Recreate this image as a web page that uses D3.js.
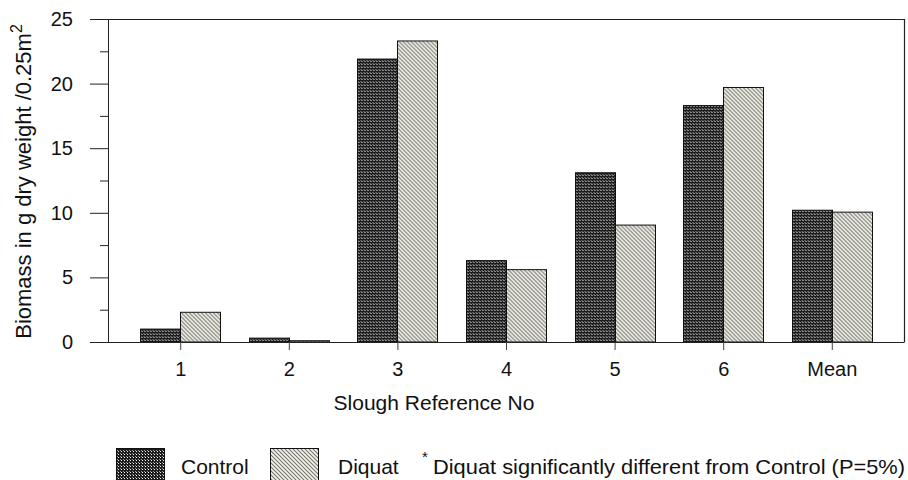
<!DOCTYPE html>
<html>
<head>
<meta charset="utf-8">
<script src="https://cdn.jsdelivr.net/npm/d3@7"></script>
<style>
  html, body { margin: 0; padding: 0; background: #fff; }
  svg { display: block; font-family: "Liberation Sans", Arial, Helvetica, sans-serif; }
</style>
</head>
<body>
<svg id="chart" width="908" height="480"></svg>
<script>
// Biomass per slough, control vs diquat-treated plots
const categories = ["1", "2", "3", "4", "5", "6", "Mean"];
const control = [1.0, 0.3, 21.9, 6.3, 13.1, 18.3, 10.2];
const diquat  = [2.3, 0.1, 23.3, 5.6, 9.05, 19.7, 10.05];
const seriesNames = ["Control", "Diquat"];
const yTicks = [0, 5, 10, 15, 20, 25];
const yMinorTicks = [2.5, 7.5, 12.5, 17.5, 22.5];

const svg = d3.select("#chart");
const m = { left: 108, right: 904, top: 19, bottom: 342 };
const FONT = "'Liberation Sans', Arial, sans-serif";
const tickFont = 20, labelFont = 21;

const defs = svg.append("defs");
// dense dotted fill for the control bars
const dots = defs.append("pattern")
  .attr("id", "pat-control").attr("patternUnits", "userSpaceOnUse")
  .attr("width", 3).attr("height", 3);
dots.append("rect").attr("width", 3).attr("height", 3).attr("fill", "#1c1c1c");
dots.append("rect").attr("x", 1).attr("y", 1).attr("width", 1).attr("height", 1).attr("fill", "#f2f2f2");
dots.append("rect").attr("x", 0).attr("y", 0).attr("width", 1).attr("height", 1).attr("fill", "#9a9a9a");

// fine diagonal hatching for the diquat bars
const hatch = defs.append("pattern")
  .attr("id", "pat-diquat").attr("patternUnits", "userSpaceOnUse")
  .attr("width", 4).attr("height", 4);
hatch.append("rect").attr("width", 4).attr("height", 4).attr("fill", "#f5f5ee");
hatch.append("path").attr("d", "M-1,-1 L5,5 M-1,3 L1,5 M3,-1 L5,1")
  .attr("stroke", "#74746c").attr("stroke-width", 1.1);

const x = d3.scalePoint().domain(categories).range([m.left, m.right]).padding(0.665);
const y = d3.scaleLinear().domain([0, 25]).range([m.bottom, m.top]);

// frame: top and right lines
svg.append("path")
  .attr("d", `M${m.left},${m.top + 0.5} H${m.right + 0.5} V${m.bottom}`)
  .attr("fill", "none").attr("stroke", "#222").attr("stroke-width", 1.2);

// y axis
const yAxis = d3.axisLeft(y).tickValues(yTicks).tickSize(18).tickPadding(17);
const gy = svg.append("g").attr("transform", `translate(${m.left},0)`).call(yAxis);
gy.select(".domain").attr("stroke", "#222");
gy.selectAll(".tick line").attr("stroke", "#222");
gy.selectAll(".tick text").attr("font-size", tickFont).attr("fill", "#111").attr("font-family", FONT);
const yMinor = d3.axisLeft(y).tickValues(yMinorTicks).tickSize(8).tickFormat("");
const gym = svg.append("g").attr("transform", `translate(${m.left},0)`).call(yMinor);
gym.select(".domain").remove();
gym.selectAll(".tick line").attr("stroke", "#222");

// bars
const bw = 40;
const xs = d3.scaleBand().domain(seriesNames).range([0, bw * 2]);
const rows = categories.map((c, i) => ({ cat: c, vals: [control[i], diquat[i]] }));
const groups = svg.append("g").selectAll("g").data(rows).join("g")
  .attr("transform", d => `translate(${Math.round(x(d.cat)) - bw + 0.5},0)`);
groups.selectAll("rect")
  .data(d => d.vals.map((v, j) => ({ name: seriesNames[j], v })))
  .join("rect")
  .attr("x", d => xs(d.name))
  .attr("y", d => y(d.v))
  .attr("width", xs.bandwidth())
  .attr("height", d => y(0) - y(d.v))
  .attr("fill", d => d.name === "Control" ? "url(#pat-control)" : "url(#pat-diquat)")
  .attr("stroke", "#111").attr("stroke-width", 1);

// x axis
const xAxis = d3.axisBottom(x).tickSize(8).tickPadding(12);
const gx = svg.append("g").attr("transform", `translate(0,${m.bottom})`).call(xAxis);
gx.select(".domain").attr("d", `M${m.left},0.5 H${m.right + 0.5}`).attr("stroke", "#222").attr("stroke-width", 1.2);
gx.selectAll(".tick line").attr("stroke", "#444");
gx.selectAll(".tick text").attr("font-size", tickFont).attr("fill", "#111").attr("font-family", FONT);

// axis titles
svg.append("text").attr("x", 434).attr("y", 410).attr("text-anchor", "middle")
  .attr("font-size", labelFont).attr("fill", "#111").text("Slough Reference No");

const yt = svg.append("text")
  .attr("transform", `translate(31,${(m.top + m.bottom) / 2 + 1}) rotate(-90)`)
  .attr("text-anchor", "middle").attr("font-size", 22).attr("fill", "#111");
yt.append("tspan").text("Biomass in g dry weight /0.25m");
yt.append("tspan").attr("dy", -9).attr("font-size", 16).text("2");

// legend
const legend = svg.append("g");
legend.append("rect").attr("x", 116.5).attr("y", 448.5).attr("width", 48).attr("height", 32)
  .attr("fill", "url(#pat-control)").attr("stroke", "#111");
legend.append("text").attr("x", 181).attr("y", 474).attr("font-size", labelFont).attr("fill", "#111").text(seriesNames[0]);
legend.append("text").attr("x", 338).attr("y", 474).attr("font-size", labelFont).attr("fill", "#111").text(seriesNames[1]);
legend.append("rect").attr("x", 270.5).attr("y", 448.5).attr("width", 48).attr("height", 32)
  .attr("fill", "url(#pat-diquat)").attr("stroke", "#111");
legend.append("text").attr("x", 422).attr("y", 462).attr("font-size", 15).attr("fill", "#111").text("*");
legend.append("text").attr("x", 433).attr("y", 474).attr("font-size", labelFont).attr("fill", "#111")
  .attr("textLength", 472).attr("lengthAdjust", "spacingAndGlyphs")
  .text("Diquat significantly different from Control (P=5%)");
</script>
</body>
</html>
